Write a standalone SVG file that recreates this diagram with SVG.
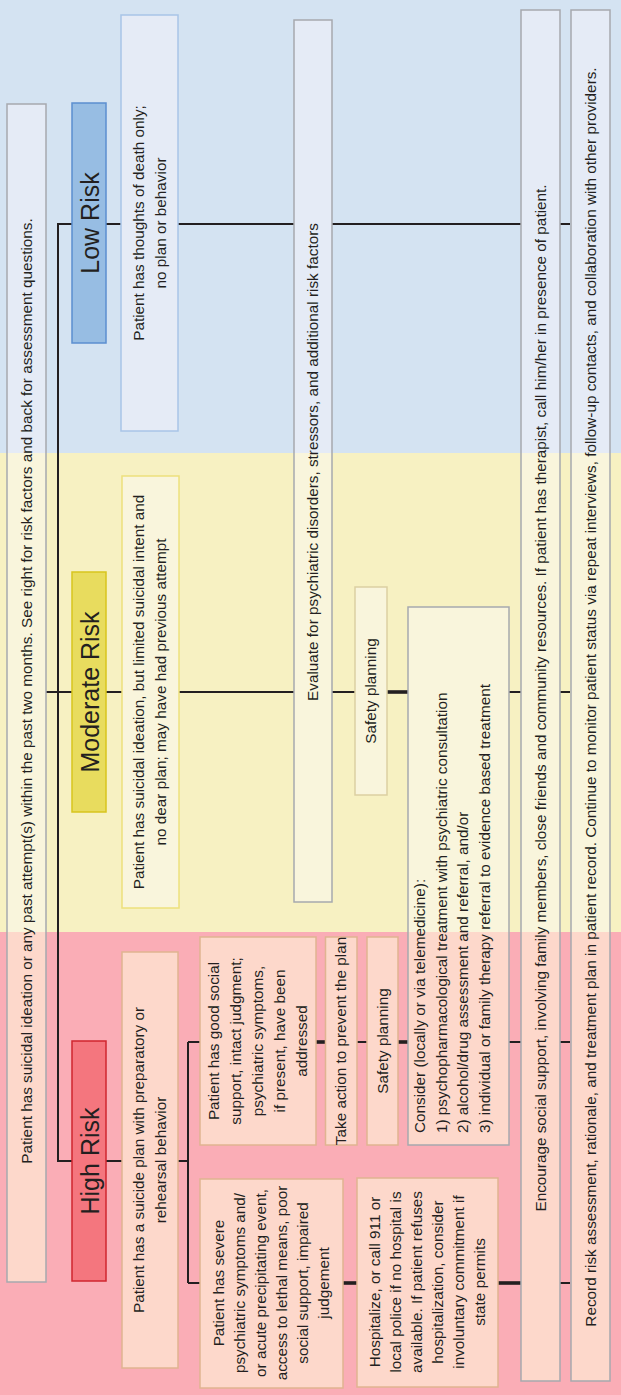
<svg xmlns="http://www.w3.org/2000/svg" width="621" height="1395" viewBox="0 0 621 1395">
<style>
.bg-b{fill:#d4e3f2}.bg-y{fill:#f7f1c2}.bg-p{fill:#faadb6}
.fb{fill:#e5ebf6}.fy{fill:#f9f5dc}.fp{fill:#fdd8cb}
.ol{fill:none;stroke-width:1.5}
.sg{stroke:#a6a9ae}.sbl{stroke:#a8c5e7}.sye{stroke:#ede07c}.sta{stroke:#dccfa2}.spe{stroke:#e0b491}
.ln{fill:none;stroke:#231f20;stroke-width:2}
.thk{stroke-width:3.6}
.t{font-family:"Liberation Sans",Arial,sans-serif;font-size:15.3px;fill:#231f20}
.c{text-anchor:middle}
.lab{font-size:25px}
</style>
<g id="bands">
<rect class="bg-b" x="0" y="0" width="621" height="453"/>
<rect class="bg-y" x="0" y="453" width="621" height="479"/>
<rect class="bg-p" x="0" y="932" width="621" height="463"/>
</g>
<g id="connectors">
<path class="ln" d="M570,224 H58 V1161 H188"/>
<path class="ln" d="M46,692 H570"/>
<path class="ln" d="M188,1042 V1283"/>
<path class="ln" d="M188,1042 H570"/>
<path class="ln" d="M188,1283 H570"/>
<path class="ln thk" d="M387,692 H408"/>
<path class="ln thk" d="M316,1042 H326"/>
<path class="ln thk" d="M398,1042 H408"/>
<path class="ln thk" d="M343,1283 H357"/>
<path class="ln thk" d="M498,1283 H521"/>
</g>
<g id="node-ideation">
<rect class="fb" x="7" y="104" width="39" height="349"/>
<rect class="fy" x="7" y="453" width="39" height="479"/>
<rect class="fp" x="7" y="932" width="39" height="350"/>
<rect class="ol sg" x="7" y="104" width="39" height="1178"/>
<text class="t c" transform="translate(32,691) rotate(-90)">Patient has suicidal ideation or any past attempt(s) within the past two months. See right for risk factors and back for assessment questions.</text>
</g>
<g id="node-low-risk">
<rect x="72" y="103" width="34" height="240" fill="#97bde3" stroke="#5b8fd0" stroke-width="1.5"/>
<text class="t c lab" transform="translate(99,223) rotate(-90)">Low Risk</text>
</g>
<g id="node-low-desc">
<rect class="ol sbl" style="fill:#e5ebf6" x="121" y="15" width="57" height="416"/>
<text class="t c" transform="translate(144,223) rotate(-90)"><tspan x="0" y="0">Patient has thoughts of death only;</tspan><tspan x="0" y="22">no plan or behavior</tspan></text>
</g>
<g id="node-evaluate">
<rect class="fb" x="294" y="20" width="38" height="433"/>
<rect class="fy" x="294" y="453" width="38" height="449"/>
<rect class="ol sg" x="294" y="20" width="38" height="882"/>
<text class="t c" transform="translate(318,462) rotate(-90)">Evaluate for psychiatric disorders, stressors, and additional risk factors</text>
</g>
<g id="node-encourage">
<rect class="fb" x="521" y="10" width="39" height="443"/>
<rect class="fy" x="521" y="453" width="39" height="479"/>
<rect class="fp" x="521" y="932" width="39" height="449"/>
<rect class="ol sg" x="521" y="10" width="39" height="1371"/>
<text class="t c" transform="translate(545.5,698) rotate(-90)">Encourage social support, involving family members, close friends and community resources. If patient has therapist, call him/her in presence of patient.</text>
</g>
<g id="node-record">
<rect class="fb" x="571" y="10" width="39" height="443"/>
<rect class="fy" x="571" y="453" width="39" height="479"/>
<rect class="fp" x="571" y="932" width="39" height="449"/>
<rect class="ol sg" x="571" y="10" width="39" height="1371"/>
<text class="t c" transform="translate(595.5,697) rotate(-90)">Record risk assessment, rationale, and treatment plan in patient record. Continue to monitor patient status via repeat interviews, follow-up contacts, and collaboration with other providers.</text>
</g>
<g id="node-moderate-risk">
<rect x="72" y="572" width="34" height="240" fill="#e8dc5e" stroke="#d8c51e" stroke-width="1.5"/>
<text class="t c lab" transform="translate(99,692) rotate(-90)">Moderate Risk</text>
</g>
<g id="node-moderate-desc">
<rect class="ol sye" style="fill:#f9f5dc" x="122" y="476" width="57" height="432"/>
<text class="t c" transform="translate(144,692) rotate(-90)"><tspan x="0" y="0">Patient has suicidal ideation, but limited suicidal intent and</tspan><tspan x="0" y="22">no dear plan; may have had previous attempt</tspan></text>
</g>
<g id="node-safety-moderate">
<rect class="ol sta" style="fill:#f9f5dc" x="355" y="587" width="32" height="208"/>
<text class="t c" transform="translate(376,691) rotate(-90)">Safety planning</text>
</g>
<g id="node-consider">
<rect class="fy" x="408" y="607" width="101" height="325"/>
<rect class="fp" x="408" y="932" width="101" height="213"/>
<rect class="ol sg" x="408" y="607" width="101" height="538"/>
<text class="t" transform="translate(425,1133) rotate(-90)"><tspan x="0" y="0">Consider (locally or via telemedicine):</tspan><tspan x="0" y="21.7">1) psychopharmacological treatment with psychiatric consultation</tspan><tspan x="0" y="43.4">2) alcohol/drug assessment and referral, and/or</tspan><tspan x="0" y="65.1">3) individual or family therapy referral to evidence based treatment</tspan></text>
</g>
<g id="node-high-risk">
<rect x="72" y="1041" width="34" height="240" fill="#f4767e" stroke="#d0262f" stroke-width="1.5"/>
<text class="t c lab" transform="translate(99,1161) rotate(-90)">High Risk</text>
</g>
<g id="node-high-desc">
<rect class="ol spe" style="fill:#fdd8cb" x="122" y="952" width="56" height="416"/>
<text class="t c" transform="translate(144,1160) rotate(-90)"><tspan x="0" y="0">Patient has a suicide plan with preparatory or</tspan><tspan x="0" y="22">rehearsal behavior</tspan></text>
</g>
<g id="node-good-support">
<rect class="ol spe" style="fill:#fdd8cb" x="200" y="937" width="116" height="208"/>
<text class="t c" transform="translate(219,1041) rotate(-90)"><tspan x="0" y="0">Patient has good social</tspan><tspan x="0" y="22">support, intact judgment;</tspan><tspan x="0" y="44">psychiatric symptoms,</tspan><tspan x="0" y="66">if present, have been</tspan><tspan x="0" y="88">addressed</tspan></text>
</g>
<g id="node-take-action">
<rect class="ol spe" style="fill:#fdd8cb" x="325.5" y="937" width="31.5" height="208"/>
<text class="t c" transform="translate(346,1041) rotate(-90)">Take action to prevent the plan</text>
</g>
<g id="node-safety-high">
<rect class="ol spe" style="fill:#fdd8cb" x="367" y="937" width="31" height="208"/>
<text class="t c" transform="translate(387.5,1041) rotate(-90)">Safety planning</text>
</g>
<g id="node-severe">
<rect class="ol spe" style="fill:#fdd8cb" x="200" y="1179" width="143" height="209"/>
<text class="t c" transform="translate(224,1283) rotate(-90)"><tspan x="0" y="0">Patient has severe</tspan><tspan x="0" y="21">psychiatric symptoms and/</tspan><tspan x="0" y="42">or acute precipitating event,</tspan><tspan x="0" y="63">access to lethal means, poor</tspan><tspan x="0" y="84">social support, impaired</tspan><tspan x="0" y="105">judgement</tspan></text>
</g>
<g id="node-hospitalize">
<rect class="ol spe" style="fill:#fdd8cb" x="357" y="1178" width="141" height="209"/>
<text class="t c" transform="translate(380,1282) rotate(-90)"><tspan x="0" y="0">Hospitalize, or call 911 or</tspan><tspan x="0" y="21">local police if no hospital is</tspan><tspan x="0" y="42">available. If patient refuses</tspan><tspan x="0" y="63">hospitalization, consider</tspan><tspan x="0" y="84">involuntary commitment if</tspan><tspan x="0" y="105">state permits</tspan></text>
</g>
</svg>
